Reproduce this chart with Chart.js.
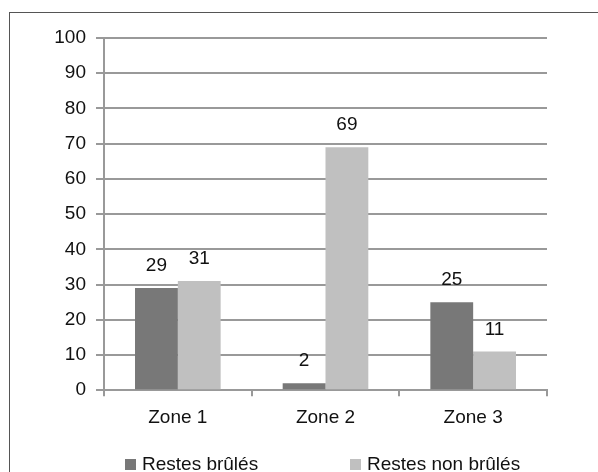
<!DOCTYPE html>
<html lang="fr">
<head>
  <meta charset="UTF-8" />
  <script src="https://cdn.jsdelivr.net/npm/chart.js"></script>
  <title>Restes brûlés / non brûlés</title>
  <style>
    body { margin: 0; background: #fff; font-family: "Liberation Sans", Arial, sans-serif; }
    #cadre { position: relative; width: 598px; height: 472px; overflow: hidden; }
    #bord { position: absolute; left: 9px; top: 12px; right: -2px; bottom: -2px;
            border-left: 1.5px solid #555; border-top: 1.5px solid #555; }
    canvas { position: absolute; left: 0; top: 0; }
    .leg { position: absolute; top: 453px; font-size: 19px; color: #111; white-space: nowrap; }
    .leg i { display: inline-block; width: 11px; height: 11px; margin-right: 6px; vertical-align: 0px; }
  </style>
</head>
<body>
  <div id="cadre">
    <div id="bord"></div>
    <canvas id="grafico" width="598" height="472"></canvas>
    <div id="legende"></div>
  </div>
  <script>
    // donnees
    const zones = ['Zone 1', 'Zone 2', 'Zone 3'];
    const restesBrules = [29, 2, 25];
    const restesNonBrules = [31, 69, 11];
    const couleurs = ['#787878', '#c0c0c0'];
    const series = ['Restes brûlés', 'Restes non brûlés'];
    const police = '"Liberation Sans", Arial, sans-serif';

    // etiquettes de valeur au-dessus des barres
    const etiquettes = {
      id: 'etiquettes',
      afterDatasetsDraw(chart) {
        const ctx = chart.ctx;
        ctx.save();
        ctx.font = '19px ' + police;
        ctx.fillStyle = '#111';
        ctx.textAlign = 'center';
        ctx.textBaseline = 'middle';
        chart.data.datasets.forEach((ds, i) => {
          chart.getDatasetMeta(i).data.forEach((bar, j) => {
            ctx.fillText(ds.data[j], bar.x, bar.y - 22);
          });
        });
        ctx.restore();
      }
    };

    const ctx = document.getElementById('grafico').getContext('2d');
    new Chart(ctx, {
      type: 'bar',
      data: {
        labels: zones,
        datasets: [
          { label: series[0], data: restesBrules, backgroundColor: couleurs[0] },
          { label: series[1], data: restesNonBrules, backgroundColor: couleurs[1] }
        ]
      },
      options: {
        responsive: false,
        animation: false,
        layout: { padding: { left: 0, right: 51, top: 38, bottom: 33 } },
        plugins: { legend: { display: false }, tooltip: { enabled: false } },
        datasets: { bar: { barPercentage: 1, categoryPercentage: 0.58 } },
        scales: {
          x: {
            grid: { drawOnChartArea: false, drawTicks: true, tickLength: 6, color: '#999', lineWidth: 2 },
            border: { color: '#999', width: 2 },
            ticks: { color: '#111', padding: 10, font: { family: police, size: 19 } }
          },
          y: {
            min: 0, max: 100,
            afterFit(scale) { scale.width = 104; },
            grid: { color: '#999', lineWidth: 2, tickLength: 8 },
            border: { color: '#999', width: 2 },
            ticks: { stepSize: 10, color: '#111', padding: 10, font: { family: police, size: 19 } }
          }
        }
      },
      plugins: [etiquettes]
    });

    // legende en texte
    const legende = document.getElementById('legende');
    const positions = [125, 350];
    series.forEach((nom, i) => {
      const span = document.createElement('span');
      span.className = 'leg';
      span.style.left = positions[i] + 'px';
      span.innerHTML = '<i style="background:' + couleurs[i] + '"></i>' + nom;
      legende.appendChild(span);
    });
  </script>
</body>
</html>
